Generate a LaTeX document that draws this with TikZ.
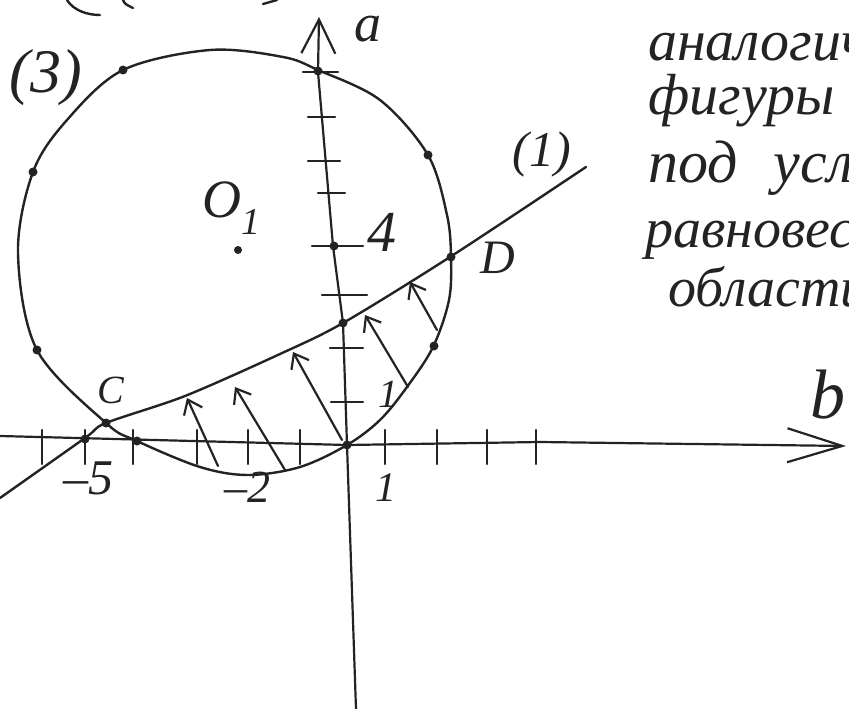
\documentclass[tikz,border=0pt]{standalone}
\usepackage{fontspec}
\setmainfont{Liberation Serif}
\usetikzlibrary{arrows.meta}
\definecolor{ink}{RGB}{35,35,35}
\newcommand\hand[1]{\fontsize{#1}{#1}\selectfont\itshape}
\tikzset{
  pen/.style={draw=ink, line width=2.4pt, line cap=round, line join=round},
  axis/.style={pen, line width=2.2pt},
  hatch/.style={pen, line width=2.2pt, -{Straight Barb[length=13pt,width=20pt]}},
  dot/.style={circle, fill=ink, inner sep=0pt, minimum size=9pt},
  lbl/.style={inner sep=0pt, text=ink},
}

\begin{document}
\begin{tikzpicture}[x=1pt, y=-1pt]
    \useasboundingbox (0,0) rectangle (849,709);
    \clip (0,0) rectangle (849,709);

    % circle (3)
    \draw[pen] plot[smooth cycle, tension=0.55] coordinates {(210,50) (283,57) (318,70)
        (380,100) (428,155) (447,215) (451,257) (449,300) (433,347) (407,387) (380,420)
        (347,445) (300,467) (248,475) (200,467) (137,441) (106,423) (37,350) (18,253)
        (33,172) (67,120) (123,70)};

    % line (1)
    \draw[pen] plot[smooth, tension=0.5] coordinates {(0,498) (85,438) (106,423)
        (185,396) (280,354) (343,323) (450,257) (586,167)};

    % axes
    \draw[axis, -{Straight Barb[length=34pt,width=34pt]}]
        (356,709) -- (347,445) -- (343,323) -- (333,246) -- (318,72) -- (319,17);
    \draw[axis, -{Straight Barb[length=55pt,width=34pt]}]
        (0,436) -- (347,445) -- (540,442) -- (846,446);

    \foreach \x in {42,85,133,197,248,300,385,437,487,536}
        \draw[axis] (\x,430) -- (\x,464);
    \foreach \y/\l/\r in {72/303/338, 117/308/335, 161/308/340, 193/318/345,
                          246/312/363, 295/322/367, 348/330/363, 402/331/363}
        \draw[axis] (\l,\y) -- (\r,\y);

    % marked points
    \node[dot] (ptop) at (318,71) {};
    \node[dot] (pleft) at (123,70) {};
    \node[dot] (pright) at (428,155) {};
    \node[dot] (pD) at (451,257) {};
    \node[dot] (plow) at (434,346) {};
    \node[dot] (porig) at (347,445) {};
    \node[dot] (pfour) at (137,441) {};
    \node[dot] (pC) at (106,423) {};
    \node[dot] (pfive) at (85,439) {};
    \node[dot] (pwest) at (37,350) {};
    \node[dot] (pnorth) at (33,172) {};
    \node[dot] (pa4) at (334,246) {};
    \node[dot] (pa1) at (343,323) {};
    \node[dot, minimum size=8pt] (pO) at (238,250) {};

    % hatching
    \draw[hatch] (218,466) -- (187,398);
    \draw[hatch] (285,470) -- (235,387);
    \draw[hatch] (342,440) -- (293,352);
    \draw[hatch] (408,387) -- (365,315);
    \draw[hatch] (437,330) -- (410,282);

    % cut strokes at the top
    \draw[pen] (67,0) .. controls (74,11) and (88,15) .. (100,15);
    \draw[pen] (123,0) .. controls (125,4) .. (133,8);
    \draw[pen] (263,4) -- (277,0);

    % labels
    \node[lbl] (la) at (368,29) {\hand{54}a};
    \node[lbl] (lb) at (828,395) {\hand{70}b};
    \node[lbl] (lthree) at (46,78) {\hand{62}(3)};
    \node[lbl] (lone) at (542,154) {\hand{50}(1)};
    \node[lbl] (lD) at (498,258) {\hand{48}D};
    \node[lbl] (lC) at (111,390) {\hand{40}C};
    \node[lbl] (lO) at (232,208) {\hand{54}O\textsubscript{1}};
    \node[lbl] (lfour) at (382,232) {\hand{58}4};
    \node[lbl] (laone) at (388,394) {\hand{40}1};
    \node[lbl] (lbone) at (386,488) {\hand{42}1};
    \node[lbl] (lmfive) at (88,478) {\hand{50}–5};
    \node[lbl] (lmtwo) at (247,487) {\hand{46}–2};

    % note on the right
    \node[lbl, anchor=base west] (note1) at (648,61) {\hand{58}аналогич};
    \node[lbl, anchor=base west] (note2) at (648,114) {\hand{58}фигуры\hspace{0.3em}и};
    \node[lbl, anchor=base west] (note3) at (648,182) {\hand{60}под\hspace{0.6em}усл};
    \node[lbl, anchor=base west] (note4) at (645,247) {\hand{56}равновеси};
    \node[lbl, anchor=base west] (note5) at (668,306) {\hand{56}области};
\end{tikzpicture}
\end{document}
